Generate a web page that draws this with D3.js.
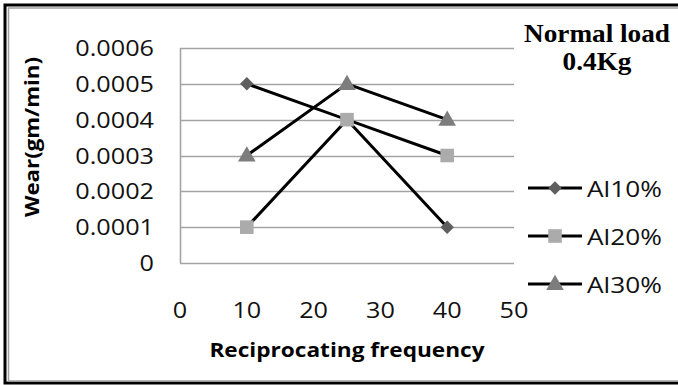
<!DOCTYPE html>
<html>
<head>
<meta charset="utf-8">
<script src="https://cdn.jsdelivr.net/npm/d3@7"></script>
<style>
  body { margin: 0; background: #fff; }
  svg { display: block; }
</style>
</head>
<body>
<svg id="chart" width="678" height="385"></svg>
<script>
// values
const frequency = [10, 25, 40]
const al10 = [0.0005, 0.0004, 0.0001]
const al20 = [0.0001, 0.0004, 0.0003]
const al30 = [0.0003, 0.0005, 0.0004]
const seriesNames = ['Al10%', 'Al20%', 'Al30%']
const yTicks = [0, 0.0001, 0.0002, 0.0003, 0.0004, 0.0005, 0.0006]
const xTicks = [0, 10, 20, 30, 40, 50]
const titleLines = ['Normal load', '0.4Kg']

const series = [
  { name: seriesNames[0], values: al10, shape: 'diamond', color: '#5e5e5e' },
  { name: seriesNames[1], values: al20, shape: 'square', color: '#ababab' },
  { name: seriesNames[2], values: al30, shape: 'triangle', color: '#7d7d7d' }
]

const margin = { left: 180, top: 48, right: 164, bottom: 122 }
const width = 678 - margin.left - margin.right
const height = 385 - margin.top - margin.bottom
const stretch = 1.2   // the picture is wider than the fonts
const font = '"Open Sans", "DejaVu Sans", sans-serif'

const svg = d3.select('#chart')

// outer frame: thick black edge with a thin grey line inside
svg.append('rect')
  .attr('x', 5).attr('y', 5)
  .attr('width', 700).attr('height', 378)
  .attr('fill', 'none').attr('stroke', '#000').attr('stroke-width', 3)
svg.append('rect')
  .attr('x', 8.5).attr('y', 8)
  .attr('width', 700).attr('height', 373)
  .attr('fill', 'none').attr('stroke', '#a0a0a0').attr('stroke-width', 1.5)

const chart = svg.append('g')
  .attr('transform', `translate(${margin.left}, ${margin.top})`)

const x = d3.scaleLinear().domain([0, 50]).range([0, width])
const y = d3.scaleLinear().domain([0, 0.0006]).range([height, 0])

// small helper for horizontally stretched text
function label(g, px, py, str, opts) {
  return g.append('text')
    .attr('transform', `translate(${px}, ${py}) scale(${opts.sx || stretch}, 1)`)
    .attr('text-anchor', opts.anchor || 'start')
    .attr('dominant-baseline', opts.baseline || 'auto')
    .style('font-family', opts.family || font)
    .style('font-size', opts.size + 'px')
    .style('font-weight', opts.weight || 'normal')
    .attr('fill', opts.fill || '#111')
    .text(str)
}

// gridlines
chart.append('g')
  .selectAll('line')
  .data(yTicks)
  .join('line')
    .attr('x1', 0).attr('x2', width)
    .attr('y1', d => Math.round(y(d)) + 0.5).attr('y2', d => Math.round(y(d)) + 0.5)
    .attr('stroke', '#a3a3a3').attr('stroke-width', 1.6)

// left axis line
chart.append('line')
  .attr('x1', 0.5).attr('x2', 0.5)
  .attr('y1', 0).attr('y2', height)
  .attr('stroke', '#a3a3a3').attr('stroke-width', 1.6)

// y tick labels
yTicks.forEach(t => {
  label(chart, -26, y(t), t === 0 ? '0' : t.toFixed(4), { size: 21, anchor: 'end', baseline: 'central' })
})

// x tick labels
xTicks.forEach(t => {
  label(chart, x(t), 270, t, { size: 21, anchor: 'middle' })
})

// axis titles
label(chart, width / 2, 309, 'Reciprocating frequency', { size: 19.5, anchor: 'middle', weight: 'bold', sx: 1.16, fill: '#000' })

svg.append('text')
  .attr('transform', 'translate(39, 137) rotate(-90)')
  .attr('text-anchor', 'middle')
  .style('font-family', font)
  .style('font-size', '19px')
  .style('font-weight', 'bold')
  .attr('textLength', 160)
  .attr('lengthAdjust', 'spacingAndGlyphs')
  .text('Wear(gm/min)')

// markers
function marker(g, shape, cx, cy, color) {
  const sym = {
    diamond: d3.symbol().type(d3.symbolDiamond2).size(115),
    square: d3.symbol().type(d3.symbolSquare).size(185),
    triangle: d3.symbol().type(d3.symbolTriangle).size(135)
  }[shape]
  g.append('path')
    .attr('d', sym())
    .attr('transform', `translate(${cx}, ${cy + (shape === 'triangle' ? 1 : 0)})`)
    .attr('fill', color)
}

const line = d3.line()
  .x((d, i) => x(frequency[i]))
  .y(d => y(d))

series.forEach(s => {
  chart.append('path')
    .datum(s.values)
    .attr('d', line)
    .attr('fill', 'none')
    .attr('stroke', '#000')
    .attr('stroke-width', 3)
  s.values.forEach((v, i) => marker(chart, s.shape, x(frequency[i]), y(v), s.color))
})

// legend
const legend = svg.append('g')
series.forEach((s, i) => {
  const ly = 188 + i * 48
  legend.append('line')
    .attr('x1', 528).attr('x2', 582)
    .attr('y1', ly).attr('y2', ly)
    .attr('stroke', '#000').attr('stroke-width', 3)
  marker(legend, s.shape, 555, ly, s.color)
  label(legend, 587, ly, s.name, { size: 21.5, baseline: 'central', sx: 1.22 })
})

// title
titleLines.forEach((t, i) => {
  label(svg, 597, 42 + i * 28, t, {
    size: 25, anchor: 'middle', weight: 'bold', sx: 1.09, fill: '#000',
    family: '"Liberation Serif", "Times New Roman", serif'
  })
})
</script>
</body>
</html>
